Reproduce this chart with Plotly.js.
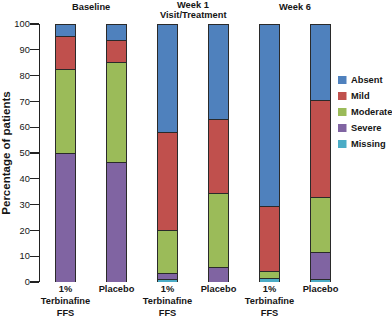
<!DOCTYPE html>
<html>
<head>
<meta charset="utf-8">
<script src="https://cdn.plot.ly/plotly-3.0.1.min.js"></script>
<style>html,body{margin:0;padding:0;background:#fff;}#chart{width:392px;height:317px;}</style>
</head>
<body>
<div id="chart"></div>
<script>
// Data
const positions = [0, 1, 2, 3, 4, 5];
const tickLabels = ['1%<br>Terbinafine<br>FFS', 'Placebo', '1%<br>Terbinafine<br>FFS', 'Placebo', '1%<br>Terbinafine<br>FFS', 'Placebo'];
const groupLabels = ['Baseline', 'Week 1', 'Week 6'];
const groupSubLabels = ['', 'Visit/Treatment', ''];
const groupCenters = [0.5, 2.5, 4.5];
const seriesNames = ['Missing', 'Severe', 'Moderate', 'Mild', 'Absent'];
const missing  = [0,    0,    1.0,  0,    1.3,  0.8];
const severe   = [50.0, 46.4, 2.4,  5.7,  0,    10.7];
const moderate = [32.2, 38.6, 16.5, 28.5, 2.9,  21.1];
const mild     = [13.1, 8.8,  38.1, 28.6, 25.2, 37.6];
const absent   = [4.7,  6.2,  42.0, 37.2, 70.6, 29.8];
const colors = {Absent: '#4f81bd', Mild: '#c0504d', Moderate: '#9bbb59', Severe: '#8064a2', Missing: '#4bacc6'};
const values = {Missing: missing, Severe: severe, Moderate: moderate, Mild: mild, Absent: absent};
const legendOrder = ['Absent', 'Mild', 'Moderate', 'Severe', 'Missing'];

const font = 'Liberation Sans, Arial, sans-serif';
const fs = 9.3;
const txt = '#151515';

const traces = seriesNames.map(n => ({
  type: 'bar', name: n, x: positions, y: values[n], width: 0.39,
  marker: {color: colors[n], line: {color: '#2a2a2a', width: 1}},
  showlegend: false, hoverinfo: 'skip'
}));

// layout geometry helpers (pixel -> paper)
const W = 392, H = 317, mL = 40, mR = 46, mT = 24, mB = 35;
const pw = W - mL - mR, ph = H - mT - mB;
const px = x => (x - mL) / pw;
const py = y => 1 - (y - mT) / ph;

const annotations = [];
const shapes = [];
groupLabels.forEach((g, i) => {
  annotations.push({xref: 'x', yref: 'paper', x: groupCenters[i], y: py(groupSubLabels[i] ? 5 : 7), text: '<b>' + g + '</b>',
    showarrow: false, xanchor: 'center', yanchor: 'middle', font: {family: font, size: fs, color: txt}});
  if (groupSubLabels[i]) annotations.push({xref: 'x', yref: 'paper', x: groupCenters[i], y: py(15.5), text: '<b>' + groupSubLabels[i] + '</b>',
    showarrow: false, xanchor: 'center', yanchor: 'middle', font: {family: font, size: fs, color: txt}});
});
legendOrder.forEach((n, i) => {
  const cy = 80 + 16 * i;
  shapes.push({type: 'rect', xref: 'paper', yref: 'paper', x0: px(338), x1: px(346.5), y0: py(cy - 4), y1: py(cy + 4),
    fillcolor: colors[n], line: {width: 0}});
  annotations.push({xref: 'paper', yref: 'paper', x: px(349), y: py(cy), text: '<b>' + n + '</b>', showarrow: false,
    xanchor: 'left', yanchor: 'middle', font: {family: font, size: fs, color: txt}});
});

const layout = {
  width: W, height: H,
  margin: {l: mL, r: mR, t: mT, b: mB, pad: 0},
  barmode: 'stack',
  paper_bgcolor: '#fff', plot_bgcolor: '#fff',
  showlegend: false,
  xaxis: {range: [-0.5, 5.5], tickvals: positions, ticktext: tickLabels.map(t => '<b>' + t + '</b>'),
    showgrid: false, zeroline: false, showline: false, ticks: '',
    tickfont: {family: font, size: fs, color: txt}, fixedrange: true},
  yaxis: {range: [0, 100], tickvals: [0,10,20,30,40,50,60,70,80,90,100], showgrid: false, zeroline: false,
    showline: true, linecolor: '#222', linewidth: 1.3, ticks: 'outside', ticklen: 9, tickwidth: 1.3, tickcolor: '#222',
    ticklabelstandoff: -2,
    tickfont: {family: font, size: fs, color: txt}, tickprefix: '<b>', ticksuffix: '</b>',
    title: {text: '<b>Percentage of patients</b>', font: {family: font, size: 11.5, color: txt}, standoff: 6}},
  annotations: annotations,
  shapes: shapes
};

Plotly.newPlot('chart', traces, layout, {staticPlot: true, displayModeBar: false});
</script>
</body>
</html>
